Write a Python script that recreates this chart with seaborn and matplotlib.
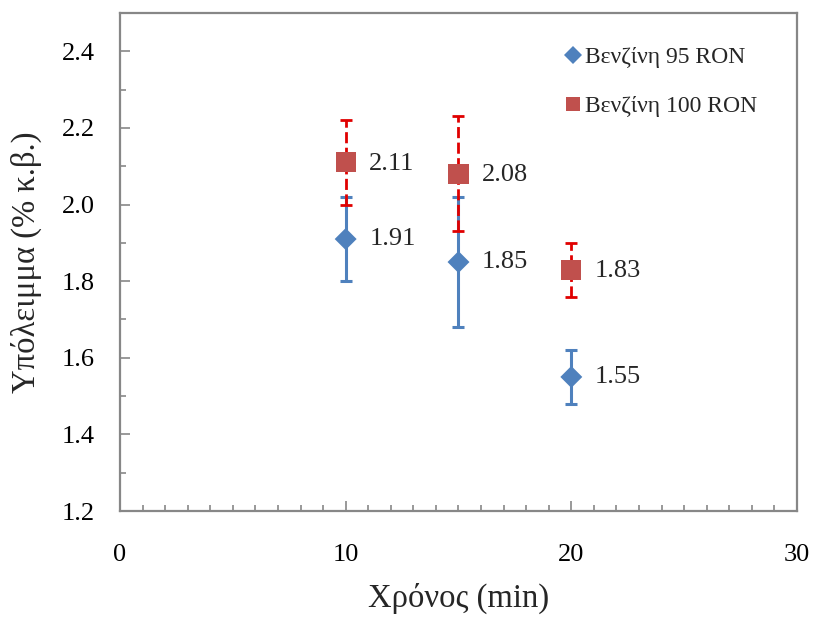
import matplotlib
matplotlib.use("Agg")
import matplotlib.pyplot as plt
from matplotlib.ticker import MultipleLocator
import seaborn as sns
import pandas as pd

# Measurements
time_min = [10, 15, 20]
ron95 = [1.91, 1.85, 1.55]
ron95_err = [0.11, 0.17, 0.07]
ron100 = [2.11, 2.08, 1.83]
ron100_err = [0.11, 0.15, 0.07]
labels = ["Βενζίνη 95 RON", "Βενζίνη 100 RON"]
yticks = [1.2, 1.4, 1.6, 1.8, 2.0, 2.2, 2.4]
xticks = [0, 10, 20, 30]

df = pd.DataFrame({
    "t": time_min * 2,
    "y": ron95 + ron100,
    "fuel": [labels[0]] * 3 + [labels[1]] * 3,
})

sns.set_style("white")
plt.rcParams["font.family"] = ["Liberation Serif", "DejaVu Serif"]

fig = plt.figure(figsize=(8.13, 6.21), dpi=100)
ax = fig.add_axes([0.1476, 0.1771, 0.8327, 0.8019])

blue = "#4F81BD"
red = "#C0504D"
gray = "#878787"

# error bars
ax.errorbar(time_min, ron95, yerr=ron95_err, fmt="none", ecolor=blue,
            elinewidth=2.2, capsize=4.5, capthick=2.2, zorder=2)
eb = ax.errorbar(time_min, ron100, yerr=ron100_err, fmt="none", ecolor="#E00000",
                 elinewidth=2, capsize=4.5, capthick=2, zorder=2)
eb[2][0].set_linestyle((0, (4, 1.6)))
for cap in eb[1]:
    cap.set_color("#E00000")

sns.scatterplot(data=df, x="t", y="y", hue="fuel", style="fuel", size="fuel",
                palette=[blue, red], markers=["D", "s"],
                sizes={labels[0]: 125, labels[1]: 210},
                linewidth=0, ax=ax, zorder=3, legend=True)

for x, v in zip(time_min, ron95):
    ax.annotate(f"{v:.2f}", (x, v), xytext=(17, 0), textcoords="offset points",
                va="center", ha="left", fontsize=19)
for x, v in zip(time_min, ron100):
    ax.annotate(f"{v:.2f}", (x, v), xytext=(17, -1), textcoords="offset points",
                va="center", ha="left", fontsize=19)

ax.set_xlim(0, 30)
ax.set_ylim(1.2, 2.5)
ax.set_xticks(xticks)
ax.set_xticklabels([str(v) for v in xticks])
ax.set_yticks(yticks)
ax.set_yticklabels([f"{v:.1f}" for v in yticks])
ax.xaxis.set_minor_locator(MultipleLocator(1))
ax.yaxis.set_minor_locator(MultipleLocator(0.1))
ax.tick_params(axis="both", which="major", direction="in", length=7, width=1.2,
               color=gray, labelsize=19, labelcolor="black")
ax.tick_params(axis="both", which="minor", direction="in", length=4, width=1.2,
               color=gray)
ax.tick_params(axis="x", which="major", pad=24)
ax.tick_params(axis="y", which="major", pad=18)
ax.tick_params(axis="y", which="both", left=True)
ax.tick_params(axis="x", which="both", bottom=True)

for sp in ax.spines.values():
    sp.set_color(gray)
    sp.set_linewidth(1.6)

ax.set_xlabel("Χρόνος (min)", fontsize=23.5, labelpad=12)
ax.set_ylabel("Υπόλειμμα (% κ.β.)", fontsize=23.5, labelpad=14)

leg = ax.legend(loc="upper left", bbox_to_anchor=(0.652, 0.933), frameon=False,
                fontsize=17, handletextpad=0.0, handlelength=1.0,
                labelspacing=1.16, markerscale=0.68, borderpad=0,
                borderaxespad=0)
# slightly larger diamond key
h = leg.legend_handles[0]
if hasattr(h, "set_markersize"):
    h.set_markersize(h.get_markersize() * 1.2)
elif hasattr(h, "set_sizes"):
    h.set_sizes([s * 1.44 for s in h.get_sizes()])

fig.savefig("out.png", dpi=100)
